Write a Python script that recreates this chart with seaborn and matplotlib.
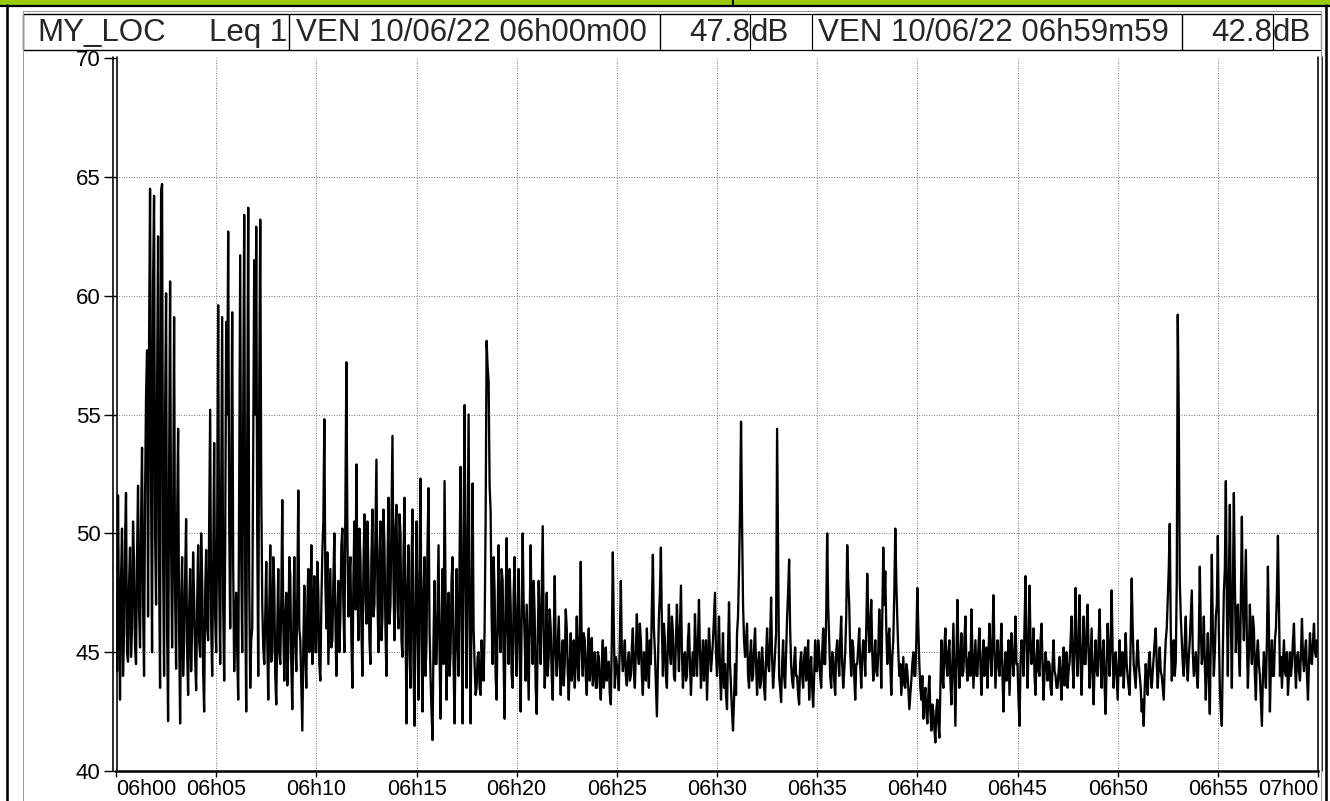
import numpy as np
import pandas as pd
import matplotlib
matplotlib.use("Agg")
import matplotlib.pyplot as plt
import seaborn as sns
from matplotlib.patches import Rectangle
from matplotlib.lines import Line2D

# ---------------- data (Leq 3 s, dB), one list per 5 minutes ----------------
step_s = 3
leq_0600 = [47.5, 44.2, 51.6, 46.5, 43.0, 48.0, 50.2, 44.0, 45.8, 49.6, 51.7, 45.0, 44.6, 47.8, 49.4, 44.8, 46.0, 50.5, 48.8, 45.2,
            44.5, 49.0, 52.0, 46.8, 45.2, 50.5, 53.6, 47.0, 44.0, 51.5, 55.8, 57.7, 46.5, 58.0, 64.5, 52.0, 45.0, 60.5, 64.2, 50.0,
            47.0, 56.0, 62.5, 48.5, 43.5, 64.4, 64.7, 49.0, 44.0, 55.0, 60.1, 46.0, 42.1, 52.5, 60.6, 49.5, 45.2, 50.0, 59.1, 47.5,
            44.3, 50.5, 54.4, 46.0, 42.0, 47.0, 49.0, 44.0, 45.5, 48.2, 50.6, 45.0, 43.2, 46.8, 48.5, 44.2, 46.0, 49.2, 47.2, 44.8,
            43.4, 47.0, 49.5, 45.5, 44.8, 50.0, 48.0, 44.2, 42.5, 47.5, 49.3, 46.0, 45.5, 50.5, 55.2, 46.2, 44.0, 48.5, 53.8, 46.5]
leq_0605 = [45.0, 50.0, 59.6, 48.0, 44.5, 52.0, 59.1, 47.0, 43.8, 49.5, 58.9, 55.0, 62.7, 50.5, 46.0, 52.0, 59.3, 48.5, 44.2, 46.5,
            47.5, 45.0, 43.0, 52.0, 61.7, 49.0, 45.0, 55.0, 63.4, 47.5, 42.5, 54.0, 63.7, 48.0, 43.5, 45.5, 46.0, 53.5, 61.5, 55.0,
            62.9, 50.0, 44.0, 56.0, 63.2, 52.0, 47.0, 45.2, 44.5, 46.5, 48.8, 45.5, 43.0, 46.8, 49.5, 44.6, 45.0, 49.0, 47.8, 44.0,
            42.8, 46.0, 48.5, 45.0, 44.5, 47.2, 51.4, 46.2, 43.8, 46.5, 47.5, 43.6, 45.0, 49.0, 48.2, 44.5, 42.6, 46.0, 49.0, 45.5,
            44.2, 47.5, 51.8, 46.0, 45.5, 43.5, 41.7, 45.2, 47.8, 44.8, 43.5, 47.0, 48.5, 45.0, 46.0, 49.5, 44.5, 46.5, 48.2, 45.0]
leq_0610 = [45.0, 48.8, 47.5, 44.5, 43.8, 47.0, 49.2, 50.5, 54.8, 48.0, 46.0, 49.2, 44.5, 46.5, 48.5, 45.2, 45.5, 48.0, 50.0, 46.5,
            44.0, 46.5, 48.0, 45.0, 46.5, 49.5, 50.2, 47.0, 45.0, 51.0, 57.2, 50.0, 46.5, 48.2, 49.0, 45.5, 43.5, 48.0, 50.5, 46.8,
            52.9, 48.0, 45.5, 50.2, 49.0, 46.0, 44.0, 48.5, 50.8, 47.5, 46.2, 50.5, 48.5, 45.5, 44.5, 49.0, 51.0, 46.5, 47.0, 50.0,
            53.1, 47.5, 45.0, 48.8, 50.5, 45.5, 46.5, 51.0, 49.5, 46.0, 44.0, 48.5, 51.5, 46.2, 47.0, 50.5, 54.1, 48.0, 45.5, 50.2,
            51.2, 47.0, 46.0, 50.8, 50.0, 45.5, 44.8, 49.0, 51.5, 46.5, 42.0, 47.5, 49.5, 45.0, 43.5, 48.5, 51.0, 44.5, 41.9, 47.0]
leq_0615 = [50.5, 46.0, 43.0, 48.5, 52.3, 45.5, 42.5, 47.5, 49.0, 44.0, 45.5, 49.5, 51.9, 46.0, 44.0, 42.5, 41.3, 45.5, 48.0, 44.5,
            44.5, 47.0, 49.5, 45.0, 42.2, 46.0, 48.5, 44.5, 52.2, 47.5, 43.0, 46.5, 47.5, 44.0, 45.0, 48.0, 49.0, 44.5, 42.0, 45.5,
            48.5, 45.5, 44.0, 49.0, 52.8, 46.0, 42.0, 50.0, 55.4, 48.0, 43.5, 49.5, 55.0, 46.5, 42.0, 47.0, 52.1, 46.0, 44.5, 43.2,
            43.5, 44.8, 45.0, 43.5, 43.2, 45.5, 44.5, 43.8, 46.0, 50.5, 58.1, 57.0, 56.4, 52.0, 50.9, 46.5, 44.5, 49.0, 47.5, 44.0,
            43.0, 46.5, 49.5, 46.0, 45.0, 48.5, 48.0, 44.5, 42.2, 47.0, 49.8, 46.0, 44.5, 48.5, 47.0, 44.0, 43.5, 47.5, 49.0, 45.5]
leq_0620 = [44.0, 46.8, 48.5, 45.0, 42.5, 46.5, 50.0, 47.0, 45.5, 43.8, 47.0, 45.0, 43.0, 46.5, 49.5, 46.0, 44.5, 48.0, 46.5, 43.5,
            42.4, 45.5, 48.0, 46.0, 44.5, 47.5, 50.3, 46.0, 43.5, 45.0, 47.5, 44.0, 44.8, 46.8, 46.0, 44.0, 43.0, 45.5, 48.2, 45.0,
            44.0, 45.2, 46.5, 44.5, 43.2, 44.8, 45.5, 43.6, 44.5, 46.8, 46.0, 44.2, 43.0, 44.5, 45.8, 43.8, 44.5, 45.5, 43.5, 44.6,
            46.5, 44.5, 43.8, 46.0, 48.8, 45.0, 44.0, 45.8, 45.5, 44.0, 43.2, 45.0, 46.0, 43.8, 44.5, 45.6, 43.6, 44.2, 45.0, 43.5,
            43.5, 45.0, 44.8, 43.6, 43.0, 44.5, 45.5, 43.5, 44.2, 45.2, 43.8, 44.5, 44.6, 43.2, 42.8, 45.5, 49.2, 46.0, 43.5, 44.8]
leq_0625 = [44.5, 44.0, 43.4, 45.5, 48.0, 45.0, 44.2, 44.8, 45.5, 44.0, 43.6, 44.6, 45.0, 43.8, 44.0, 45.2, 46.0, 44.2, 43.5, 45.0,
            46.6, 45.0, 44.5, 46.2, 45.5, 44.0, 43.2, 45.0, 44.8, 43.8, 46.0, 44.5, 43.5, 45.5, 44.5, 47.0, 49.1, 46.0, 45.0, 43.6,
            42.3, 44.5, 46.5, 47.5, 49.4, 46.0, 44.0, 46.2, 45.5, 44.0, 43.5, 45.5, 47.0, 45.0, 44.5, 46.5, 45.8, 44.0, 43.8, 45.5,
            47.0, 45.5, 44.2, 46.0, 47.8, 45.0, 43.5, 44.8, 45.0, 43.8, 44.0, 45.5, 46.2, 44.5, 43.2, 44.5, 45.0, 44.0, 46.6, 45.0,
            44.0, 45.5, 47.2, 45.0, 43.5, 44.6, 45.5, 43.8, 44.8, 45.5, 43.0, 44.5, 46.0, 45.0, 44.2, 44.8, 45.5, 46.5, 47.5, 45.0]
leq_0630 = [44.0, 45.0, 46.5, 44.2, 43.0, 44.5, 45.8, 43.5, 44.5, 43.2, 42.6, 45.0, 47.1, 44.5, 43.5, 42.5, 41.7, 43.0, 44.5, 43.2,
            45.8, 46.5, 48.5, 51.0, 54.7, 50.5, 47.0, 45.5, 44.8, 45.5, 46.2, 44.0, 43.5, 44.8, 45.5, 43.8, 44.0, 45.2, 46.0, 44.5,
            43.2, 44.5, 45.0, 43.5, 43.8, 45.2, 44.5, 43.5, 43.0, 44.8, 46.0, 44.5, 44.2, 45.5, 47.3, 44.8, 43.5, 44.2, 45.0, 45.8,
            54.4, 49.0, 44.0, 43.5, 42.9, 44.5, 45.5, 44.0, 43.5, 45.0, 46.5, 47.5, 48.9, 46.0, 44.5, 43.8, 43.5, 44.6, 45.2, 44.0,
            44.0, 43.2, 42.8, 44.5, 45.0, 44.0, 43.5, 44.8, 45.2, 43.8, 44.5, 45.5, 43.0, 44.2, 44.8, 43.5, 42.7, 44.0, 45.5, 44.2]
leq_0635 = [44.2, 45.5, 45.0, 44.0, 43.5, 45.0, 46.0, 44.5, 44.5, 46.5, 50.0, 47.0, 45.5, 44.0, 43.5, 45.0, 44.8, 43.8, 43.2, 45.0,
            45.5, 44.8, 44.0, 45.5, 46.5, 44.5, 43.5, 44.2, 45.0, 46.5, 49.5, 48.0, 47.0, 45.0, 44.0, 45.5, 45.2, 44.0, 43.0, 44.5,
            44.5, 45.2, 46.0, 44.5, 43.5, 44.8, 45.5, 45.0, 44.0, 46.0, 48.3, 46.5, 45.0, 46.0, 47.2, 45.0, 43.8, 44.6, 45.5, 44.2,
            44.0, 45.0, 46.8, 45.5, 43.5, 46.5, 49.4, 47.0, 48.4, 46.0, 44.5, 45.5, 46.0, 44.5, 43.2, 44.8, 45.5, 47.5, 50.2, 48.0,
            46.4, 45.0, 44.0, 44.5, 43.2, 44.0, 44.8, 43.6, 43.5, 44.5, 44.2, 43.5, 42.6, 43.2, 43.8, 44.5, 45.0, 44.0, 44.0, 45.5]
leq_0640 = [47.7, 46.0, 44.5, 43.5, 43.0, 44.0, 42.2, 43.0, 43.5, 42.5, 42.0, 43.2, 44.0, 42.5, 41.7, 42.8, 42.5, 41.8, 41.2, 42.6,
            43.0, 42.0, 41.4, 43.5, 45.5, 44.0, 43.5, 45.2, 46.0, 44.5, 44.0, 45.0, 45.5, 43.8, 42.8, 44.5, 46.2, 44.0, 41.9, 44.5,
            47.2, 45.0, 43.5, 44.8, 45.8, 44.0, 44.2, 45.5, 46.5, 44.5, 43.8, 44.6, 45.0, 44.0, 46.8, 45.0, 43.5, 44.5, 45.5, 44.0,
            44.0, 45.2, 46.0, 44.5, 43.2, 44.5, 45.5, 44.0, 44.5, 45.2, 43.5, 44.8, 46.2, 45.0, 44.0, 45.5, 47.4, 45.0, 43.5, 44.5,
            45.5, 44.5, 44.0, 45.2, 46.2, 44.0, 42.5, 44.2, 45.0, 43.8, 44.5, 45.5, 43.2, 44.5, 45.8, 44.8, 44.0, 45.0, 46.5, 44.5]
leq_0645 = [44.5, 43.0, 41.9, 44.5, 45.5, 45.0, 44.0, 46.0, 48.2, 45.5, 43.5, 45.0, 47.8, 45.5, 44.5, 45.0, 46.0, 44.0, 43.2, 44.8,
            45.5, 44.2, 44.0, 45.5, 46.2, 44.5, 43.0, 44.2, 45.0, 44.5, 43.8, 44.6, 44.5, 43.5, 43.2, 44.5, 45.5, 44.2, 44.0, 43.5,
            43.5, 44.2, 44.8, 43.8, 43.0, 44.5, 45.2, 43.6, 44.2, 45.0, 43.5, 44.2, 44.6, 45.5, 46.5, 44.5, 43.5, 45.5, 47.7, 45.0,
            44.0, 45.5, 47.4, 44.5, 43.2, 45.0, 46.5, 44.5, 44.5, 46.0, 47.0, 45.0, 43.5, 44.8, 46.0, 44.0, 42.8, 44.5, 45.5, 44.2,
            44.0, 45.5, 46.8, 44.5, 43.5, 45.0, 45.5, 43.5, 42.4, 44.5, 46.2, 45.0, 44.0, 45.5, 47.6, 45.0, 43.5, 44.6, 45.0, 44.0]
leq_0650 = [43.0, 44.5, 45.5, 44.0, 44.2, 45.0, 43.5, 44.5, 45.8, 44.5, 44.0, 43.5, 43.2, 45.5, 48.1, 46.0, 44.5, 44.0, 43.5, 44.8,
            45.5, 44.5, 44.0, 43.5, 42.5, 43.0, 41.9, 43.5, 44.5, 43.8, 43.2, 44.6, 45.0, 44.0, 43.5, 44.2, 44.8, 45.5, 46.0, 44.5,
            43.5, 44.5, 45.2, 44.2, 44.0, 43.5, 43.0, 44.5, 45.5, 46.0, 47.3, 48.5, 50.4, 46.0, 43.8, 44.5, 45.5, 44.0, 44.6, 48.0,
            59.2, 55.0, 48.0, 46.5, 45.5, 44.5, 44.0, 45.5, 46.5, 44.5, 43.8, 44.8, 45.5, 46.5, 47.6, 45.0, 44.0, 44.5, 45.0, 44.0,
            43.5, 45.5, 48.6, 46.0, 44.5, 45.0, 46.5, 44.5, 43.0, 44.5, 45.8, 44.0, 42.4, 45.5, 49.1, 46.0, 44.0, 45.0, 46.5, 47.0]
leq_0655 = [49.9, 46.0, 43.5, 42.5, 41.9, 45.0, 47.5, 48.5, 52.2, 47.0, 44.0, 48.0, 51.2, 46.5, 43.5, 47.5, 51.7, 48.0, 45.0, 46.5,
            47.0, 45.0, 44.0, 47.5, 50.7, 47.0, 45.5, 47.5, 49.3, 45.5, 43.5, 45.0, 47.0, 45.5, 44.5, 46.5, 46.0, 44.0, 43.0, 45.0,
            45.5, 44.5, 44.0, 43.0, 41.9, 44.0, 45.0, 44.2, 43.5, 45.5, 48.6, 46.0, 42.5, 44.5, 45.5, 44.0, 44.0, 45.5, 46.0, 47.5,
            49.9, 47.0, 44.0, 44.8, 43.5, 44.5, 45.5, 44.2, 44.0, 45.0, 43.2, 44.0, 45.0, 44.0, 44.5, 45.5, 46.2, 44.5, 43.5, 44.8,
            45.0, 44.2, 43.8, 45.0, 46.4, 44.8, 44.2, 45.0, 45.5, 44.0, 43.0, 44.5, 45.8, 44.6, 44.5, 45.5, 46.2, 45.0, 44.8, 45.5,
            45.3]

tick_seconds = [0, 300, 600, 900, 1200, 1500, 1800, 2100, 2400, 2700, 3000, 3300, 3600]
tick_labels = ["06h00", "06h05", "06h10", "06h15", "06h20", "06h25", "06h30",
               "06h35", "06h40", "06h45", "06h50", "06h55", "07h00"]
y_ticks = [40, 45, 50, 55, 60, 65, 70]

site_label = "MY_LOC"
index_label = "Leq 1"
start_label = "VEN 10/06/22 06h00m00"
start_value = "47.8"
end_label = "VEN 10/06/22 06h59m59"
end_value = "42.8"
unit = "dB"

# ---------------- figure ----------------
sns.set_theme(style="white")
plt.rcParams['font.family'] = ['Liberation Sans', 'DejaVu Sans']

W, H = 1330, 801
fig = plt.figure(figsize=(W / 100, H / 100), dpi=100)
fig.patch.set_facecolor("white")


def fx(x):
    return x / W


def fy(y):
    return 1 - y / H


def px(p):
    return p * 72 / 100


values = np.concatenate([leq_0600, leq_0605, leq_0610, leq_0615, leq_0620, leq_0625,
                         leq_0630, leq_0635, leq_0640, leq_0645, leq_0650, leq_0655])
df = pd.DataFrame({"t": np.arange(len(values)) * step_s, "leq": values})

X0, X1, Y0, Y1 = 116, 1318, 58, 771
ax = fig.add_axes([fx(X0), fy(Y1), (X1 - X0) / W, (Y1 - Y0) / H])
ax.set_facecolor("white")

# dotted grey grid, inner lines only
for yv in y_ticks[1:-1]:
    ax.axhline(yv, color="#7f7f7f", lw=px(1), ls=(0, (1, 1.5)), zorder=0)
for xv in tick_seconds[1:-1]:
    ax.axvline(xv, color="#7f7f7f", lw=px(1), ls=(0, (1, 1.5)), zorder=0)

sns.lineplot(data=df, x="t", y="leq", ax=ax, color="black", lw=px(2.3),
             estimator=None, zorder=3)

ax.set_xlim(0, 3600)
ax.set_ylim(40, 70)
ax.set_xlabel("")
ax.set_ylabel("")
ax.set_xticks(tick_seconds)
ax.set_xticklabels(tick_labels)
ax.set_yticks(y_ticks)
ax.set_yticklabels([str(v) for v in y_ticks])
ax.tick_params(axis="y", direction="out", length=9, width=1, pad=2,
               labelsize=16, colors="black", left=True)
ax.tick_params(axis="x", direction="out", length=4, width=1, pad=2,
               labelsize=15.5, colors="black", bottom=True)
xt = ax.get_xticklabels()
xt[0].set_horizontalalignment("left")
xt[-1].set_horizontalalignment("right")

for s in ["top", "left", "right"]:
    ax.spines[s].set_visible(False)
ax.spines["bottom"].set_color("black")
ax.spines["bottom"].set_linewidth(px(2.5))

# double vertical axis lines
for xx in (113, 117, 1318, 1322):
    fig.add_artist(Line2D([fx(xx), fx(xx)], [fy(Y0 - 1), fy(Y1)], color="black",
                          lw=px(1.6), transform=fig.transFigure))

# ---------------- frame & header ----------------
fig.add_artist(Rectangle((0, fy(4.5)), 1, 4.5 / H, transform=fig.transFigure,
                         facecolor="#99cc00", edgecolor="none"))
fig.add_artist(Line2D([0, 1], [fy(5.5), fy(5.5)], color="black", lw=px(2.2),
                      transform=fig.transFigure))
fig.add_artist(Line2D([fx(733), fx(733)], [fy(0), fy(5)], color="black", lw=px(2),
                      transform=fig.transFigure))
for xx in (7, 1326):
    fig.add_artist(Line2D([fx(xx), fx(xx)], [fy(5), 0], color="black", lw=px(2.6),
                          transform=fig.transFigure))
# grey inner panel border
fig.add_artist(Line2D([fx(23), fx(23), fx(1321), fx(1321)], [0, fy(11), fy(11), 0],
                      color="#9a9a9a", lw=px(1), transform=fig.transFigure))

HT, HB = 14, 50


def box(x0, x1):
    fig.add_artist(Rectangle((fx(x0), fy(HB)), (x1 - x0) / W, (HB - HT) / H,
                             transform=fig.transFigure, facecolor="none",
                             edgecolor="black", lw=px(1.2)))


box(23, 1321)
box(23, 289)
box(289, 660)
box(660, 750)
box(812, 1182)
box(1182, 1273)

hy = fy(33)
hfs = 22.5
fig.text(fx(37), hy, site_label, fontsize=hfs, ha="left", va="center")
fig.text(fx(287), hy, index_label, fontsize=hfs, ha="right", va="center")
fig.text(fx(296), hy, start_label, fontsize=hfs, ha="left", va="center")
fig.text(fx(750), hy, start_value, fontsize=hfs, ha="right", va="center")
fig.text(fx(751), hy, unit, fontsize=hfs, ha="left", va="center")
fig.text(fx(818), hy, end_label, fontsize=hfs, ha="left", va="center")
fig.text(fx(1272), hy, end_value, fontsize=hfs, ha="right", va="center")
fig.text(fx(1273), hy, unit, fontsize=hfs, ha="left", va="center")

fig.savefig("out.png", dpi=100, facecolor="white")
